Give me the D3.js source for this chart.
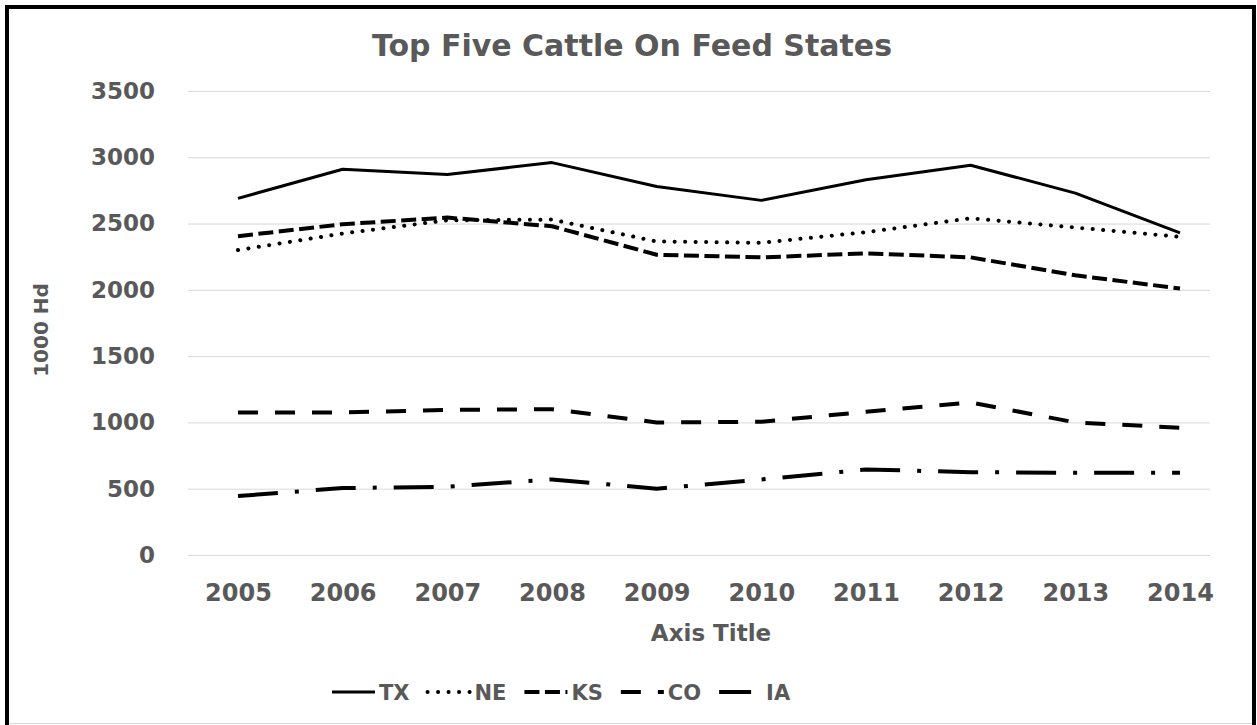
<!DOCTYPE html>
<html>
<head>
<meta charset="utf-8">
<script src="https://cdn.jsdelivr.net/npm/d3@7"></script>
<style>
  html, body { margin: 0; padding: 0; background: #fff; }
  svg text { font-family: "DejaVu Sans", Verdana, sans-serif; font-weight: bold; fill: #595959; }
</style>
</head>
<body>
<svg id="chart" width="1257" height="725"></svg>
<script>
// Cattle on feed, thousand head, by year
const years = ["2005","2006","2007","2008","2009","2010","2011","2012","2013","2014"];
const txValues = [2690, 2910, 2870, 2960, 2780, 2675, 2830, 2940, 2730, 2430];
const neValues = [2300, 2425, 2525, 2530, 2365, 2355, 2435, 2540, 2470, 2400];
const ksValues = [2405, 2495, 2545, 2480, 2265, 2245, 2275, 2245, 2110, 2010];
const coValues = [1075, 1075, 1095, 1100, 1000, 1005, 1080, 1150, 1000, 960];
const iaValues = [445, 505, 515, 570, 500, 570, 645, 625, 620, 620];
const yTicks = [0, 500, 1000, 1500, 2000, 2500, 3000, 3500];

const seriesNames = ["TX", "NE", "KS", "CO", "IA"];
const seriesValues = [txValues, neValues, ksValues, coValues, iaValues];

// line styles per state
const styles = {
  TX: { width: 3,   dash: null,           cap: "butt",  legendOffset: 0 },
  NE: { width: 4,   dash: "0.1,10.4",     cap: "round", legendOffset: 0 },
  KS: { width: 4,   dash: "15,5.5",       cap: "butt",  legendOffset: 0 },
  CO: { width: 4,   dash: "20,17",        cap: "butt",  legendOffset: 0 },
  IA: { width: 4,   dash: "40,17,4,17",   cap: "butt",  legendOffset: 8 }
};

const svg = d3.select("#chart");

// outer frame
svg.append("rect")
  .attr("x", 7).attr("y", 7).attr("width", 1247).attr("height", 740)
  .attr("fill", "none").attr("stroke", "#000").attr("stroke-width", 4);
svg.append("line")
  .attr("x1", 9).attr("x2", 1252).attr("y1", 723.5).attr("y2", 723.5)
  .attr("stroke", "#d6d6d6").attr("stroke-width", 1);

const plotLeft = 188, plotRight = 1210;
const x = d3.scalePoint().domain(years).range([238, 1180]);
const y = d3.scaleLinear().domain([0, 3500]).range([555, 91]);

// y axis with gridlines
const yAxis = svg.append("g")
  .attr("transform", `translate(${plotLeft},0)`)
  .call(d3.axisLeft(y).tickValues(yTicks).tickFormat(d3.format("d"))
    .tickSizeInner(-(plotRight - plotLeft)).tickSizeOuter(0).tickPadding(33));
yAxis.select(".domain").remove();
yAxis.selectAll(".tick line").attr("stroke", "#d9d9d9").attr("stroke-width", 1);
yAxis.selectAll(".tick text").style("font-size", "23px").attr("fill", "#595959");

// x axis labels
const xAxis = svg.append("g")
  .attr("transform", "translate(0,555)")
  .call(d3.axisBottom(x).tickSize(0).tickPadding(29));
xAxis.select(".domain").remove();
xAxis.selectAll(".tick text").style("font-size", "24px").attr("fill", "#595959");

// series lines
const line = d3.line().x((d, i) => x(years[i])).y(d => y(d));
seriesNames.forEach((name, k) => {
  const s = styles[name];
  svg.append("path")
    .datum(seriesValues[k])
    .attr("d", line)
    .attr("fill", "none")
    .attr("stroke", "#000")
    .attr("stroke-width", s.width)
    .attr("stroke-linecap", s.cap)
    .attr("stroke-linejoin", "round")
    .attr("stroke-dasharray", s.dash);
});

// title and axis titles
svg.append("text")
  .attr("x", 632).attr("y", 56)
  .attr("text-anchor", "middle")
  .style("font-size", "30px")
  .text("Top Five Cattle On Feed States");

svg.append("text")
  .attr("transform", "translate(48,330) rotate(-90)")
  .attr("text-anchor", "middle")
  .style("font-size", "20px")
  .text("1000 Hd");

svg.append("text")
  .attr("x", 711).attr("y", 641)
  .attr("text-anchor", "middle")
  .style("font-size", "23px")
  .text("Axis Title");

// legend
const legend = svg.append("g").attr("transform", "translate(332,692)");
let cursor = 0;
seriesNames.forEach(name => {
  const s = styles[name];
  legend.append("line")
    .attr("x1", cursor).attr("x2", cursor + 43)
    .attr("y1", 0).attr("y2", 0)
    .attr("stroke", "#000")
    .attr("stroke-width", s.width)
    .attr("stroke-linecap", s.cap)
    .attr("stroke-dasharray", s.dash)
    .attr("stroke-dashoffset", s.legendOffset);
  const t = legend.append("text")
    .attr("x", cursor + 47).attr("y", 0).attr("dy", "0.36em")
    .style("font-size", "21px")
    .text(name);
  cursor += 47 + t.node().getComputedTextLength() + 18;
});
</script>
</body>
</html>
